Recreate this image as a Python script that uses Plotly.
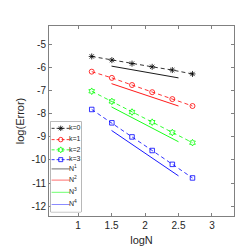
import plotly.graph_objects as go

# ---- data ----
logN = [1.204, 1.505, 1.806, 2.107, 2.408, 2.709]
err_k0 = [-5.51, -5.67, -5.82, -5.96, -6.10, -6.27]
err_k1 = [-6.17, -6.44, -6.75, -7.06, -7.36, -7.66]
err_k2 = [-7.02, -7.46, -7.92, -8.36, -8.81, -9.25]
err_k3 = [-7.81, -8.39, -9.00, -9.59, -10.19, -10.78]

ref_x = [1.5, 2.5]
ref_N1 = [-5.93, -6.44]
ref_N2 = [-6.69, -7.66]
ref_N3 = [-7.70, -9.21]
ref_N4 = [-8.72, -10.69]

series_names = ["k=0", "k=1", "k=2", "k=3"]
ref_names = ["N<sup>1</sup>", "N<sup>2</sup>", "N<sup>3</sup>", "N<sup>4</sup>"]

x_ticks = [1, 1.5, 2, 2.5, 3]
x_ticktext = ["1", "1.5", "2", "2.5", "3"]
y_ticks = [-5, -6, -7, -8, -9, -10, -11, -12]
y_ticktext = ["-5", "-6", "-7", "-8", "-9", "-10", "-11", "-12"]

# ---- styles ----
colors = ["#000000", "#ff0000", "#00ff00", "#0000ff"]
symbols = ["asterisk-open", "circle-open", "hexagram-open", "square-open"]
msizes = [5, 5, 5, 4.5]
FONT = "Liberation Sans"

fig = go.Figure()

series = [err_k0, err_k1, err_k2, err_k3]
for ys, c, s, ms, nm in zip(series, colors, symbols, msizes, series_names):
    fig.add_trace(go.Scatter(
        x=logN, y=ys, mode="lines+markers", name=nm,
        line=dict(color=c, width=0.8, dash="4px,3px"),
        marker=dict(symbol=s, size=ms, color=c, line=dict(color=c, width=0.8)),
        showlegend=False))

refs = [ref_N1, ref_N2, ref_N3, ref_N4]
for ys, c, nm in zip(refs, colors, ref_names):
    fig.add_trace(go.Scatter(
        x=ref_x, y=ys, mode="lines", name=nm,
        line=dict(color=c, width=0.9), showlegend=False))

# ---- manual legend (in its own small axes) ----
LX0, LX1 = 0.009, 0.174
LY0, LY1 = 0.022, 0.497
row_y = [0.925, 0.80, 0.687, 0.578, 0.476, 0.351, 0.216, 0.081]
line_x = [0.03, 0.625]
mark_x = 0.33
text_x = 0.6
labels = series_names + ref_names
for i, lab in enumerate(labels):
    c = colors[i % 4]
    is_series = i < 4
    fig.add_trace(go.Scatter(
        x=line_x, y=[row_y[i], row_y[i]], mode="lines",
        line=dict(color=c, width=0.8 if is_series else 1.2,
                  dash="3px,2px" if is_series else "solid"),
        opacity=1 if is_series else 0.45,
        xaxis="x2", yaxis="y2", showlegend=False, hoverinfo="skip"))
    if is_series:
        fig.add_trace(go.Scatter(
            x=[mark_x], y=[row_y[i]], mode="markers",
            marker=dict(symbol=symbols[i], size=msizes[i] - 0.5, color=c,
                        line=dict(color=c, width=0.8)),
            xaxis="x2", yaxis="y2", showlegend=False, hoverinfo="skip"))

fig.add_trace(go.Scatter(
    x=[text_x] * len(labels), y=row_y, mode="text", text=labels,
    textposition="middle right",
    textfont=dict(family=FONT, size=7, color="#262626"),
    xaxis="x2", yaxis="y2", showlegend=False, hoverinfo="skip",
    cliponaxis=False))

fig.update_layout(
    width=249, height=249,
    margin=dict(l=32, r=23, t=18, b=36),
    paper_bgcolor="white", plot_bgcolor="white",
    showlegend=False,
    font=dict(family=FONT, size=10, color="#262626"),
    xaxis=dict(range=[0.566, 3.329], tickvals=x_ticks, ticktext=x_ticktext,
               ticks="inside", ticklen=3, tickcolor="#808080",
               showline=True, linecolor="#808080", linewidth=1,
               mirror="allticks", showgrid=False, zeroline=False,
               title=dict(text="logN", font=dict(size=11), standoff=6),
               tickfont=dict(size=10, color="#262626")),
    yaxis=dict(range=[-12.43, -4.19], tickvals=y_ticks, ticktext=y_ticktext,
               ticks="inside", ticklen=3, tickcolor="#808080",
               showline=True, linecolor="#808080", linewidth=1,
               mirror="allticks", showgrid=False, zeroline=False,
               title=dict(text="log(Error)", font=dict(size=11), standoff=4),
               tickfont=dict(size=10, color="#262626")),
    xaxis2=dict(domain=[LX0, LX1], range=[0, 1], anchor="y2",
                visible=False, fixedrange=True),
    yaxis2=dict(domain=[LY0, LY1], range=[0, 1], anchor="x2",
                visible=False, fixedrange=True),
    shapes=[dict(type="rect", xref="paper", yref="paper",
                 x0=LX0, x1=LX1, y0=LY0, y1=LY1, layer="below",
                 line=dict(color="#808080", width=1), fillcolor="white")],
)

fig.write_html("out.html")
